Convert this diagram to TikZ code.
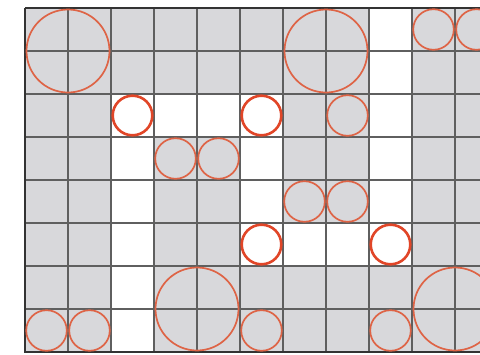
\documentclass[tikz,border=0pt]{standalone}
\definecolor{cellgray}{RGB}{216,216,219}
\definecolor{gridline}{RGB}{95,95,95}
\definecolor{ringred}{RGB}{222,100,70}
\definecolor{ringhot}{RGB}{225,70,40}
\tikzset{
  ring/.style={draw=ringred, line width=1.7pt},
  hotring/.style={draw=ringhot, line width=2.6pt},
  gridln/.style={draw=gridline, line width=1.3pt},
}
\begin{document}
\begin{tikzpicture}[x=1pt,y=-1pt]
\useasboundingbox (0,0) rectangle (480,354);
\fill[white] (0,0) rectangle (480,354);
\begin{scope}
\clip (0,0) rectangle (480,354);
% gray background of grid
\fill[cellgray] (25,8) rectangle (498,352);
% white cells
\foreach \c/\r in {8/0,8/1,2/2,3/2,4/2,5/2,8/2,2/3,5/3,8/3,2/4,5/4,8/4,2/5,5/5,6/5,7/5,8/5,2/6,2/7}
  \fill[white] ({25+43*\c},{8+43*\r}) rectangle ++(43,43);
% grid lines
\foreach \c in {0,...,11}
  \draw[gridln] ({25+43*\c},8) -- ({25+43*\c},352);
\foreach \r in {0,...,8}
  \draw[gridln] (25,{8+43*\r}) -- (498,{8+43*\r});
\draw[draw=black!80, line width=1.8pt] (25,8) -- (25,352) -- (498,352);
\draw[draw=black!80, line width=1.8pt] (25,8) -- (498,8);
% big circles (2x2 cells)
\foreach \c/\r in {1/1,7/1,4/7,10/7}
  \draw[ring] ({25+43*\c},{8+43*\r}) circle (41.5);
% small gray circles
\foreach \c/\r in {9/0,10/0,7/2,3/3,4/3,6/4,7/4,0/7,1/7,5/7,8/7}
  \draw[ring] ({25+43*\c+21.5},{8+43*\r+21.5}) circle (20.3);
% small white circles
\foreach \c/\r in {2/2,5/2,5/5,8/5}
  \draw[hotring] ({25+43*\c+21.5},{8+43*\r+21.5}) circle (19.8);
\end{scope}
\end{tikzpicture}
\end{document}
